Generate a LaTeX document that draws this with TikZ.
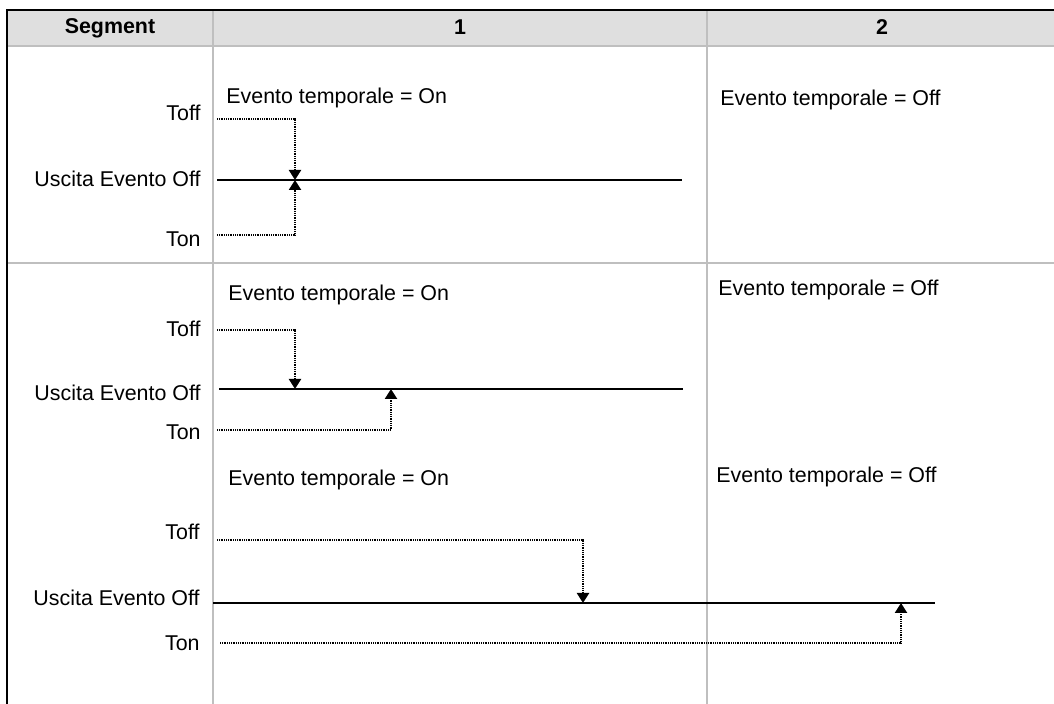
\documentclass[tikz,border=0pt]{standalone}
\usepackage{fontspec}
\setmainfont{Liberation Sans}
\usetikzlibrary{arrows.meta}
\definecolor{headgray}{HTML}{DFDFDF}
\definecolor{rulegray}{HTML}{BFBFBF}
\newcommand{\txt}{\fontsize{10.7}{13}\selectfont}

\begin{document}
\begin{tikzpicture}[x=0.5pt, y=-0.5pt, font=\txt,
    rule/.style={rulegray, line width=1.3pt},
    lbl/.style={inner sep=0pt, anchor=base east},
    evt/.style={inner sep=0pt, anchor=base west},
    outline/.style={line width=1pt},
    timer/.style={line width=1.1pt, dash pattern=on 0.5pt off 0.4pt,
        -{Triangle[length=5pt, width=6pt]}}]
\useasboundingbox (0,0) rectangle (1054,704);

% table frame
\fill[headgray] (7,10) rectangle (1054,45);
\draw[rule] (7,46) -- (1054,46) (7,263) -- (1054,263);
\draw[rule] (213,10) -- (213,704) (707,10) -- (707,704);
\draw[line width=1pt] (7,704) -- (7,10) -- (1054,10);
\node[font=\txt\bfseries] (seg) at (110,28) {Segment};
\node[font=\txt\bfseries] (col1) at (460,27) {1};
\node[font=\txt\bfseries] (col2) at (882,27) {2};

% first case
\node[evt] (on1) at (226,104) {Evento temporale = On};
\node[evt] (off1) at (720,106) {Evento temporale = Off};
\node[lbl] (toff1) at (201,121) {Toff};
\node[lbl] (usc1) at (201,187) {Uscita Evento Off};
\node[lbl] (ton1) at (201,247) {Ton};
\coordinate (a1) at (217,119);
\coordinate (b1) at (217,235);
\coordinate (l1) at (217,180);
\coordinate (r1) at (682,180);
\coordinate (p1) at (295,180);
\draw[outline] (l1) -- (r1);
\draw[timer] (a1) -| (p1);
\draw[timer] (b1) -| (p1);

% second case
\node[evt] (on2) at (228,301) {Evento temporale = On};
\node[evt] (off2) at (718,296) {Evento temporale = Off};
\node[lbl] (toff2) at (201,337) {Toff};
\node[lbl] (usc2) at (201,401) {Uscita Evento Off};
\node[lbl] (ton2) at (201,440) {Ton};
\coordinate (a2) at (217,330);
\coordinate (b2) at (217,430);
\coordinate (l2) at (219,389);
\coordinate (r2) at (683,389);
\coordinate (p2) at (295,389);
\coordinate (q2) at (391,389);
\draw[outline] (l2) -- (r2);
\draw[timer] (a2) -| (p2);
\draw[timer] (b2) -| (q2);

% third case
\node[evt] (on3) at (228,486) {Evento temporale = On};
\node[evt] (off3) at (716,483) {Evento temporale = Off};
\node[lbl] (toff3) at (200,540) {Toff};
\node[lbl] (usc3) at (200,606) {Uscita Evento Off};
\node[lbl] (ton3) at (200,651) {Ton};
\coordinate (a3) at (217,540);
\coordinate (b3) at (220,643);
\coordinate (l3) at (213,603);
\coordinate (r3) at (935,603);
\coordinate (p3) at (583,603);
\coordinate (q3) at (901,603);
\draw[outline] (l3) -- (r3);
\draw[timer] (a3) -| (p3);
\draw[timer] (b3) -| (q3);
\end{tikzpicture}
\end{document}
